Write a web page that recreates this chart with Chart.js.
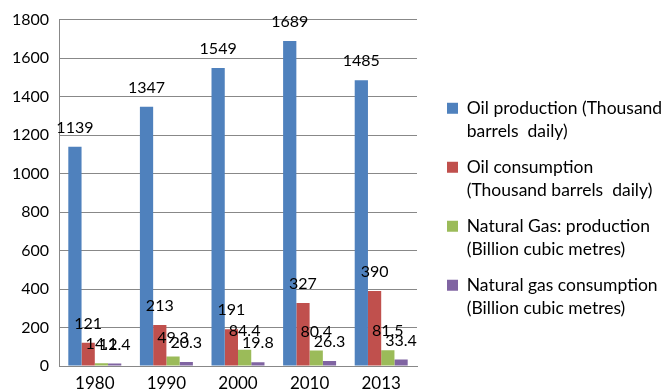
<!DOCTYPE html>
<html>
<head>
<meta charset="utf-8">
<script src="https://cdn.jsdelivr.net/npm/chart.js@4/dist/chart.umd.min.js"></script>
<style>
  html, body { margin: 0; padding: 0; background: #fff; }
</style>
</head>
<body>
<canvas id="energycanvas" width="664" height="390"></canvas>
<script>
var years = ["1980", "1990", "2000", "2010", "2013"];

var oilProduction  = [1139, 1347, 1549, 1689, 1485];
var oilConsumption = [121, 213, 191, 327, 390];
var gasProduction  = [14.1, 49.3, 84.4, 80.4, 81.5];
var gasConsumption = [12.4, 20.3, 19.8, 26.3, 33.4];

var seriesLabels = [
    ["Oil production (Thousand", "barrels  daily)"],
    ["Oil consumption", "(Thousand barrels  daily)"],
    ["Natural Gas: production", "(Billion cubic metres)"],
    ["Natural gas consumption", "(Billion cubic metres)"]
];
var seriesColors = ["#4F81BD", "#C0504D", "#9BBB59", "#8064A2"];

var yTicks = [0, 200, 400, 600, 800, 1000, 1200, 1400, 1600, 1800];

var FONT = "Lato, 'Open Sans', sans-serif";

// value labels above every bar
var barValues = {
    id: 'barValues',
    afterDatasetsDraw: function (chart) {
        var ctx = chart.ctx;
        ctx.save();
        ctx.font = "16px " + FONT;
        ctx.fillStyle = "#000";
        ctx.textAlign = "center";
        ctx.textBaseline = "alphabetic";
        chart.data.datasets.forEach(function (ds, i) {
            chart.getDatasetMeta(i).data.forEach(function (bar, j) {
                ctx.fillText(String(ds.data[j]), bar.x, bar.y - 14);
            });
        });
        ctx.restore();
    }
};

var ctx = document.getElementById("energycanvas").getContext('2d');
new Chart(ctx, {
    type: 'bar',
    data: {
        labels: years,
        datasets: [oilProduction, oilConsumption, gasProduction, gasConsumption].map(function (d, i) {
            return {
                label: seriesLabels[i],
                data: d,
                backgroundColor: seriesColors[i],
                borderWidth: 0,
                categoryPercentage: 0.74,
                barPercentage: 1.0
            };
        })
    },
    options: {
        responsive: false,
        animation: false,
        layout: { padding: { top: 12, right: 0, bottom: 0, left: 0 } },
        plugins: {
            tooltip: { enabled: false },
            legend: {
                position: 'right',
                align: 'center',
                maxWidth: 230,
                title: { display: true, text: '', padding: 0, font: { size: 16, lineHeight: 1.25 } },
                labels: {
                    boxWidth: 11,
                    boxHeight: 11,
                    padding: 13,
                    color: "#000",
                    font: { family: FONT, size: 17.5, lineHeight: 1.314 }
                }
            }
        },
        scales: {
            x: {
                grid: { display: false, drawTicks: false },
                border: { display: true, color: "#888888", width: 1 },
                ticks: { color: "#000", padding: 7, font: { family: FONT, size: 17 } },
                afterFit: function (s) { s.height = 24; }
            },
            y: {
                min: 0,
                max: 1800,
                afterBuildTicks: function (s) { s.ticks = yTicks.map(function (v) { return { value: v }; }); },
                grid: { color: "#888888", drawTicks: false },
                border: { display: true, color: "#888888", width: 1 },
                ticks: {
                    color: "#000",
                    padding: 10,
                    font: { family: FONT, size: 16 },
                    callback: function (v) { return String(v); }
                },
                afterFit: function (s) { s.width = 59; }
            },
            spacer: {
                position: 'right',
                display: true,
                grid: { display: false, drawTicks: false },
                border: { display: false },
                ticks: { display: false },
                afterFit: function (s) { s.width = 17; }
            }
        }
    },
    plugins: [barValues]
});
</script>
</body>
</html>
